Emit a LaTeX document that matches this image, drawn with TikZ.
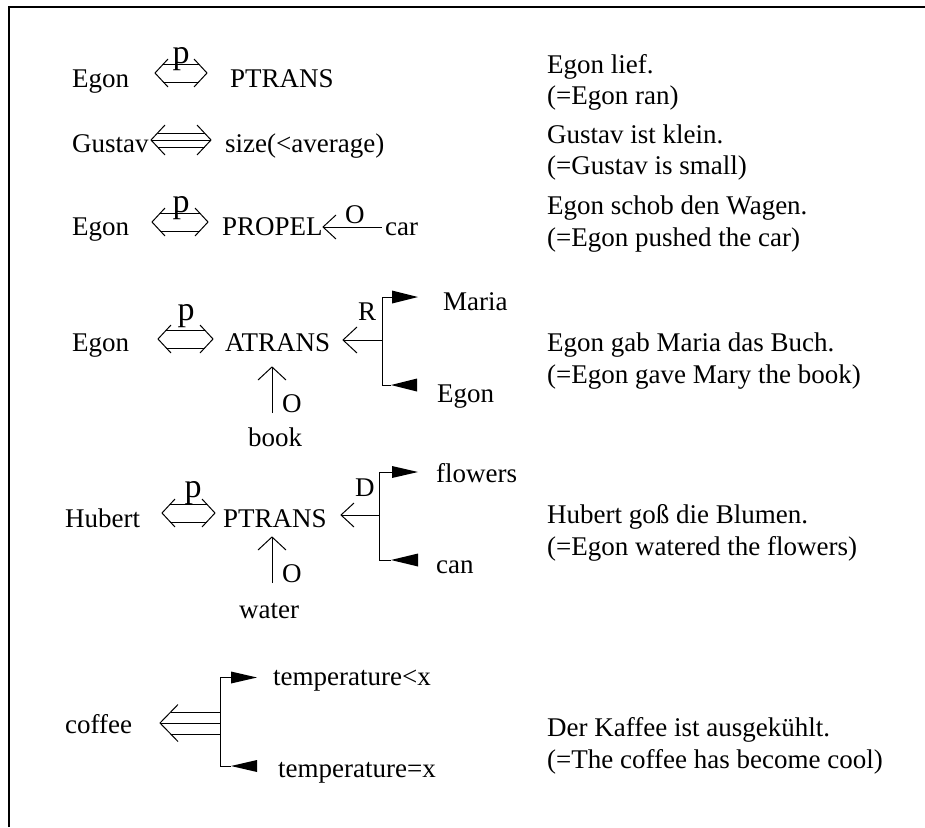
\documentclass[tikz,border=0pt]{standalone}
\usepackage{fontspec}
\setmainfont{Liberation Serif}
\usetikzlibrary{calc}
% open chevron heads and parallel shafts of the "<=>" style links
\newcommand\chevL[3]{\draw[ln] ($(#1)+(#2,-#3)$) -- (#1) -- ($(#1)+(#2,#3)$);}
\newcommand\chevR[3]{\draw[ln] ($(#1)+(-#2,-#3)$) -- (#1) -- ($(#1)+(-#2,#3)$);}
\newcommand\dbllink[2]{%
  \chevL{#1}{13}{14}\chevR{#2}{13}{14}%
  \draw[ln] ($(#1)+(8.4,-9)$) -- ($(#2)+(-8.4,-9)$);%
  \draw[ln] ($(#1)+(8.4,9)$) -- ($(#2)+(-8.4,9)$);}
\begin{document}
\begin{tikzpicture}[x=1pt,y=-1pt,
  txt/.style={inner sep=0pt, anchor=base west, font=\fontsize{27}{32}\selectfont},
  plbl/.style={inner sep=0pt, anchor=base, font=\fontsize{34}{40}\selectfont},
  ln/.style={line width=1pt},
  tri/.style={fill=black, draw=none}]
\useasboundingbox (0,0) rectangle (925,827);
% page frame (top and left rules)
\draw[line width=2pt] (9,827) -- (9,7) -- (925,7);

% ---- Egon lief.
\node[txt] (egonA) at (72,87) {Egon};
\node[txt] (ptransA) at (230,87) {PTRANS};
\coordinate (aAl) at (155,73); \coordinate (aAr) at (207,73);
\dbllink{aAl}{aAr}
\node[plbl] (pA) at (181,63) {p};
\node[txt] (deA) at (547,73) {Egon lief.};
\node[txt] (enA) at (547,104) {(=Egon ran)};

% ---- Gustav ist klein.
\node[txt] (gustav) at (72,152) {Gustav};
\node[txt] (size) at (225,152) {size(<average)};
\coordinate (aBl) at (151,140); \coordinate (aBr) at (211,140);
\chevL{aBl}{14}{15}\chevR{aBr}{14}{15}
\draw[ln] (aBl) -- (aBr);
\draw[ln] ($(aBl)+(6.5,-7)$) -- ($(aBr)+(-6.5,-7)$);
\draw[ln] ($(aBl)+(6.5,7)$) -- ($(aBr)+(-6.5,7)$);
\node[txt] (deB) at (547,143) {Gustav ist klein.};
\node[txt] (enB) at (547,174) {(=Gustav is small)};

% ---- Egon schob den Wagen.
\node[txt] (egonC) at (72,235) {Egon};
\node[txt] (propel) at (222,235) {PROPEL};
\node[txt] (car) at (385,235) {car};
\coordinate (aCl) at (152,222); \coordinate (aCr) at (208,222);
\dbllink{aCl}{aCr}
\node[plbl] (pC) at (181,212) {p};
\coordinate (oCtip) at (323,227); \coordinate (oCend) at (382,227);
\chevL{oCtip}{13}{12}
\draw[ln] (oCtip) -- (oCend);
\node[txt] (oC) at (345,223) {O};
\node[txt] (deC) at (547,214) {Egon schob den Wagen.};
\node[txt] (enC) at (547,246) {(=Egon pushed the car)};

% ---- Egon gab Maria das Buch.
\node[txt] (egonD) at (72,351) {Egon};
\node[txt] (atrans) at (225,351) {ATRANS};
\coordinate (aDl) at (158,339); \coordinate (aDr) at (213,339);
\dbllink{aDl}{aDr}
\node[plbl] (pD) at (186,320) {p};
\coordinate (rDtip) at (343,340); \coordinate (rDbr) at (382,340);
\chevL{rDtip}{14}{13}
\draw[ln] (rDtip) -- (rDbr);
\node[txt] (rD) at (358,320) {R};
\coordinate (rDtop) at (382,297); \coordinate (rDbot) at (382,385);
\draw[ln] (rDtop) -- (rDbot);
\draw[ln] (rDtop) -- ++(10,0);
\fill[tri] (392,290.5) -- (418,297) -- (392,303.5) -- cycle;
\draw[ln] (rDbot) -- ++(9,0);
\fill[tri] (391,385) -- (417,378.5) -- (417,391.5) -- cycle;
\node[txt] (maria) at (443,310) {Maria};
\node[txt] (egonD2) at (437,402) {Egon};
\coordinate (oDtip) at (272,367); \coordinate (oDend) at (272,413);
\draw[ln] (oDend) -- (oDtip);
\draw[ln] ($(oDtip)+(-14,13)$) -- (oDtip) -- ($(oDtip)+(14,13)$);
\node[txt] (oD) at (282,412) {O};
\node[txt] (book) at (248,446) {book};
\node[txt] (deD) at (547,351) {Egon gab Maria das Buch.};
\node[txt] (enD) at (547,383) {(=Egon gave Mary the book)};

% ---- Hubert goss die Blumen.
\node[txt] (hubert) at (65,527) {Hubert};
\node[txt] (ptransE) at (223,527) {PTRANS};
\coordinate (aEl) at (162,513); \coordinate (aEr) at (215,513);
\dbllink{aEl}{aEr}
\node[plbl] (pE) at (193,497) {p};
\coordinate (dEtip) at (341,515); \coordinate (dEbr) at (379,515);
\chevL{dEtip}{13}{12}
\draw[ln] (dEtip) -- (dEbr);
\node[txt] (dE) at (355,496) {D};
\coordinate (dEtop) at (379,472); \coordinate (dEbot) at (379,560);
\draw[ln] (dEtop) -- (dEbot);
\draw[ln] (dEtop) -- ++(13,0);
\fill[tri] (392,466) -- (418,472) -- (392,478) -- cycle;
\draw[ln] (dEbot) -- ++(12,0);
\fill[tri] (391,560) -- (418,553.5) -- (418,566.5) -- cycle;
\node[txt] (flowers) at (436,482) {flowers};
\node[txt] (can) at (436,573) {can};
\coordinate (oEtip) at (272,537); \coordinate (oEend) at (272,583);
\draw[ln] (oEend) -- (oEtip);
\draw[ln] ($(oEtip)+(-14,13)$) -- (oEtip) -- ($(oEtip)+(14,13)$);
\node[txt] (oE) at (282,582) {O};
\node[txt] (water) at (239,618) {water};
\node[txt] (deE) at (547,523) {Hubert goß die Blumen.};
\node[txt] (enE) at (547,555) {(=Egon watered the flowers)};

% ---- Der Kaffee ist ausgekuehlt.
\node[txt] (coffee) at (65,733) {coffee};
\coordinate (cFtip) at (160,723); \coordinate (cFbr) at (220,723);
\chevL{cFtip}{18}{18.5}
\draw[ln] (cFtip) -- (cFbr);
\draw[ln] ($(cFtip)+(10.7,-11)$) -- ($(cFbr)+(0,-11)$);
\draw[ln] ($(cFtip)+(10.7,11)$) -- ($(cFbr)+(0,11)$);
\coordinate (cFtop) at (220,677.5); \coordinate (cFbot) at (220,766);
\draw[ln] (cFtop) -- (cFbot);
\draw[ln] (cFtop) -- ++(11,0);
\fill[tri] (231,671.5) -- (257,677.5) -- (231,683.5) -- cycle;
\draw[ln] (cFbot) -- ++(11,0);
\fill[tri] (231,766) -- (257,760) -- (257,772) -- cycle;
\node[txt] (templt) at (273,685) {temperature<x};
\node[txt] (tempeq) at (278,777) {temperature=x};
\node[txt] (deF) at (547,736) {Der Kaffee ist ausgekühlt.};
\node[txt] (enF) at (547,768) {(=The coffee has become cool)};
\end{tikzpicture}
\end{document}
